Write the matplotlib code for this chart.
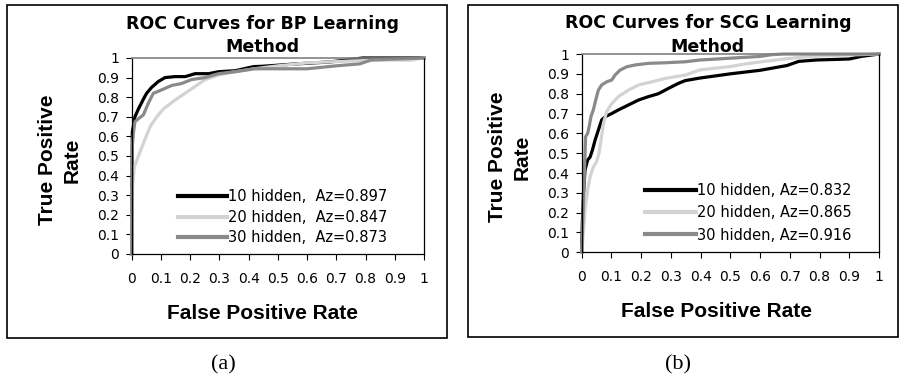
import matplotlib
matplotlib.use("Agg")
import matplotlib.pyplot as plt
from matplotlib.patches import Rectangle

# ---------------- data: panel (a) BP ----------------
bp_fpr_10 = [0, 0.002, 0.011, 0.023, 0.04, 0.051, 0.068, 0.091, 0.114, 0.148, 0.183, 0.217,
             0.263, 0.297, 0.354, 0.417, 0.45, 0.565, 0.68, 0.79, 0.85, 0.92, 1.0]
bp_tpr_10 = [0, 0.62, 0.70, 0.74, 0.79, 0.82, 0.85, 0.88, 0.90, 0.905, 0.905, 0.92,
             0.92, 0.93, 0.935, 0.956, 0.958, 0.97, 0.98, 1.0, 1.0, 1.0, 1.0]

bp_fpr_20 = [0, 0.002, 0.009, 0.023, 0.04, 0.063, 0.086, 0.108, 0.148, 0.183, 0.217, 0.251,
             0.297, 0.354, 0.42, 0.5, 0.6, 0.75, 0.9, 0.95, 1.0]
bp_tpr_20 = [0, 0.33, 0.445, 0.50, 0.565, 0.65, 0.70, 0.74, 0.785, 0.82, 0.855, 0.89,
             0.913, 0.93, 0.945, 0.96, 0.975, 0.985, 0.99, 0.988, 1.0]

bp_fpr_30 = [0, 0.002, 0.006, 0.011, 0.023, 0.04, 0.057, 0.074, 0.091, 0.114, 0.137, 0.171,
             0.205, 0.251, 0.297, 0.354, 0.42, 0.5, 0.6, 0.7, 0.78, 0.82, 1.0]
bp_tpr_30 = [0, 0.55, 0.62, 0.675, 0.69, 0.71, 0.77, 0.82, 0.83, 0.845, 0.86, 0.87,
             0.89, 0.90, 0.92, 0.93, 0.945, 0.945, 0.945, 0.96, 0.97, 0.99, 1.0]

# ---------------- data: panel (b) SCG ----------------
scg_fpr_10 = [0, 0.002, 0.006, 0.011, 0.02, 0.028, 0.036, 0.045, 0.056, 0.067, 0.079, 0.101,
              0.123, 0.157, 0.191, 0.224, 0.258, 0.292, 0.325, 0.348, 0.398, 0.499, 0.60,
              0.69, 0.73, 0.79, 0.90, 0.94, 1.0]
scg_tpr_10 = [0, 0.146, 0.30, 0.415, 0.466, 0.48, 0.516, 0.566, 0.617, 0.667, 0.684, 0.70,
              0.718, 0.743, 0.768, 0.785, 0.80, 0.827, 0.852, 0.866, 0.879, 0.90, 0.918,
              0.942, 0.963, 0.97, 0.975, 0.988, 1.0]

scg_fpr_20 = [0, 0.006, 0.011, 0.02, 0.028, 0.039, 0.05, 0.058, 0.065, 0.073, 0.084, 0.101,
              0.123, 0.157, 0.191, 0.236, 0.281, 0.348, 0.398, 0.50, 0.545, 0.60, 0.68,
              0.745, 0.79, 1.0]
scg_tpr_20 = [0, 0.113, 0.213, 0.314, 0.38, 0.43, 0.457, 0.50, 0.566, 0.65, 0.71, 0.75,
              0.785, 0.818, 0.844, 0.86, 0.877, 0.894, 0.92, 0.937, 0.949, 0.96, 0.975,
              0.985, 0.99, 1.0]

scg_fpr_30 = [0, 0.006, 0.013, 0.02, 0.025, 0.031, 0.039, 0.047, 0.056, 0.067, 0.084, 0.101,
              0.112, 0.129, 0.152, 0.18, 0.224, 0.281, 0.348, 0.398, 0.50, 0.60, 0.64,
              0.68, 1.0]
scg_tpr_30 = [0, 0.264, 0.583, 0.60, 0.634, 0.684, 0.718, 0.768, 0.818, 0.844, 0.86, 0.869,
              0.894, 0.919, 0.936, 0.945, 0.953, 0.956, 0.961, 0.97, 0.979, 0.988, 0.997,
              1.0, 1.0]

bp_labels = ["10 hidden,  Az=0.897", "20 hidden,  Az=0.847", "30 hidden,  Az=0.873"]
scg_labels = ["10 hidden, Az=0.832", "20 hidden, Az=0.865", "30 hidden, Az=0.916"]

ticks = [0, 0.1, 0.2, 0.3, 0.4, 0.5, 0.6, 0.7, 0.8, 0.9, 1]
tick_labels = ["0", "0.1", "0.2", "0.3", "0.4", "0.5", "0.6", "0.7", "0.8", "0.9", "1"]

colors = ["#000000", "#d3d3d3", "#8a8a8a"]

fig = plt.figure(figsize=(9.04, 3.80), dpi=100)

# outer boxes
for rect in [(0.0077, 0.1105, 0.4867, 0.876), (0.5177, 0.1132, 0.4757, 0.8737)]:
    fig.add_artist(Rectangle(rect[:2], rect[2], rect[3], transform=fig.transFigure,
                             fill=False, edgecolor="black", linewidth=1.2))

def setup(ax):
    ax.set_xlim(0, 1)
    ax.set_ylim(0, 1)
    ax.set_xticks(ticks)
    ax.set_xticklabels(tick_labels)
    ax.set_yticks(ticks)
    ax.set_yticklabels(tick_labels)
    ax.tick_params(axis="x", direction="out", length=4, width=0.8, pad=9, labelsize=10)
    ax.tick_params(axis="y", direction="out", length=4, width=0.8, pad=5, labelsize=10)
    for s in ["left", "bottom", "right"]:
        ax.spines[s].set_color("black")
        ax.spines[s].set_linewidth(0.9)
    ax.spines["top"].set_color("#808080")
    ax.spines["top"].set_linewidth(1.2)

axA = fig.add_axes([0.1457, 0.3316, 0.3233, 0.5158])
setup(axA)
for f, t, c, l in zip([bp_fpr_10, bp_fpr_20, bp_fpr_30], [bp_tpr_10, bp_tpr_20, bp_tpr_30],
                      colors, bp_labels):
    axA.plot(f, t, color=c, linewidth=2.3, label=l, solid_joinstyle="round", clip_on=False)
legA = axA.legend(loc="upper left", bbox_to_anchor=(0.158, 0.33),
                  frameon=False, fontsize=10.5, handlelength=3.4, handletextpad=0.05,
                  borderpad=0, borderaxespad=0, labelspacing=0.38)
for line in legA.get_lines():
    line.set_linewidth(3)

axB = fig.add_axes([0.6435, 0.336, 0.3289, 0.5218])
setup(axB)
for f, t, c, l in zip([scg_fpr_10, scg_fpr_20, scg_fpr_30], [scg_tpr_10, scg_tpr_20, scg_tpr_30],
                      colors, scg_labels):
    axB.plot(f, t, color=c, linewidth=2.3, label=l, solid_joinstyle="round", clip_on=False)
legB = axB.legend(loc="upper left", bbox_to_anchor=(0.213, 0.35),
                  frameon=False, fontsize=10.5, handlelength=3.5, handletextpad=0.05,
                  borderpad=0, borderaxespad=0, labelspacing=0.5)
for line in legB.get_lines():
    line.set_linewidth(3)

# titles
title_kw = dict(ha="center", va="center", fontsize=12.5, fontweight="bold", family="DejaVu Sans")
fig.text(0.290, 0.937, "ROC Curves for BP Learning", **title_kw)
fig.text(0.290, 0.876, "Method", **title_kw)
fig.text(0.783, 0.939, "ROC Curves for SCG Learning", **title_kw)
fig.text(0.783, 0.876, "Method", **title_kw)

# axis labels
lab_kw = dict(ha="center", va="center", fontsize=15, fontweight="bold", family="Liberation Sans")
fig.text(0.066, 0.579, "True Positive\nRate", rotation=90, linespacing=1.4, **lab_kw)
fig.text(0.564, 0.587, "True Positive\nRate", rotation=90, linespacing=1.4, **lab_kw)
fig.text(0.290, 0.176, "False Positive Rate", **lab_kw)
fig.text(0.793, 0.179, "False Positive Rate", **lab_kw)

# captions
cap_kw = dict(ha="center", va="center", fontsize=16, family="Liberation Serif")
fig.text(0.247, 0.039, "(a)", **cap_kw)
fig.text(0.750, 0.039, "(b)", **cap_kw)

fig.savefig("out.png", dpi=100)
